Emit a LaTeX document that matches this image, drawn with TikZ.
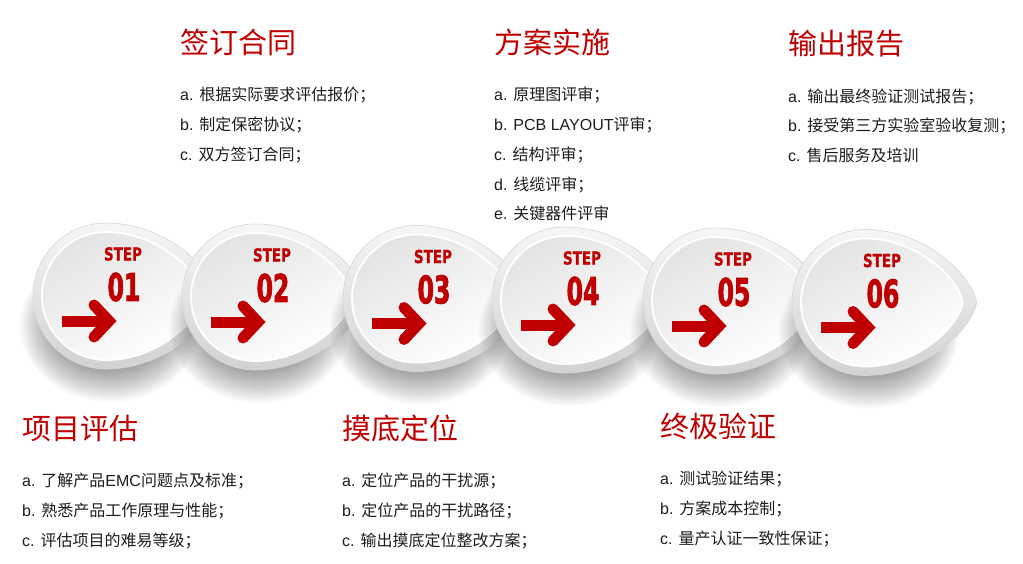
\documentclass[tikz,border=0pt]{standalone}
\usepackage{fontspec}
\usepackage{graphicx}
\setmainfont{Noto Sans CJK SC}
\newfontfamily\lat{Liberation Sans}
\newfontfamily\dvb{DejaVu Sans}[BoldFeatures={FakeBold=1.2}]
\newfontfamily\numfont{DejaVu Sans}[BoldFeatures={FakeBold=2.5}]
\definecolor{tred}{HTML}{C00000}
\definecolor{txt}{HTML}{1E1E1E}
\definecolor{rimtop}{HTML}{F6F6F6}
\definecolor{rimbot}{HTML}{D2D2D2}
\definecolor{rimline}{HTML}{D6D6D6}
\definecolor{facetop}{HTML}{E4E4E4}
\newcommand\droppath[3]{(#1,{#2+#3}) arc[start angle=90, end angle=270, radius=#3] .. controls ({#1+0.8*#3},{#2-#3}) and ({#1+1.45*#3},{#2-0.4*#3}) .. ({#1+1.53*#3},#2) .. controls ({#1+1.45*#3},{#2+0.4*#3}) and ({#1+0.8*#3},{#2+#3}) .. cycle}
\tikzset{
  titletext/.style={anchor=base west, inner sep=0pt, font=\fontsize{29}{32}\selectfont, text=tred},
  itemtext/.style={anchor=base west, inner sep=0pt, font=\fontsize{16}{19}\selectfont, text=txt},
  steplabel/.style={inner sep=0pt, font=\dvb\bfseries\fontsize{18}{20}\selectfont, text=tred},
  numlabel/.style={inner sep=0pt, font=\numfont\bfseries\fontsize{38}{40}\selectfont, text=tred},
  arrowline/.style={draw=tred, line width=11pt},
  shadowlayer/.style={fill=black, opacity=0.024},
  outerdrop/.style={top color=rimtop, bottom color=rimbot, draw=rimline, line width=0.6pt},
  innerdrop/.style={top color=facetop, bottom color=white, shading angle=30, draw=white, line width=1.8pt}
}
\begin{document}
\begin{tikzpicture}[x=1pt,y=-1pt]
\useasboundingbox[fill=white] (0,0) rectangle (1023,563);
% bubbles
\foreach \i/\cx/\cy in {1/106/296,2/255/297,3/416/298.5,4/565/300,5/716/301,6/865/302.5}{
  \foreach \k in {0,...,15}{
    \fill[shadowlayer] (\cx+4,\cy+30) ellipse [x radius={60+2*\k}, y radius={46+2*\k}];
  }
  \shade[outerdrop] \droppath{\cx}{\cy}{73};
  \shade[innerdrop] \droppath{\cx}{\cy}{64};
  \node[steplabel] (s\i) at (\cx+17,\cy-42) {\scalebox{0.75}[1]{STEP}};
  \node[numlabel] (n\i) at (\cx+18,\cy-9) {\scalebox{0.62}[1]{0\i}};
  \draw[arrowline] (\cx-44,\cy+25) -- (\cx+1,\cy+25);
  \draw[arrowline, line cap=round, line join=miter] (\cx-12,\cy+9) -- (\cx+3,\cy+25) -- (\cx-12,\cy+41);
}
% top texts
\node[titletext] (t2) at (180,53) {签订合同};
\node[itemtext] (t2a) at (180,100) {{\lat a. }根据实际要求评估报价；};
\node[itemtext] (t2b) at (180,130) {{\lat b. }制定保密协议；};
\node[itemtext] (t2c) at (180,160) {{\lat c. }双方签订合同；};
\node[titletext] (t4) at (494,53) {方案实施};
\node[itemtext] (t4a) at (494,100) {{\lat a. }原理图评审；};
\node[itemtext] (t4b) at (494,130) {{\lat b. PCB LAYOUT}评审；};
\node[itemtext] (t4c) at (494,160) {{\lat c. }结构评审；};
\node[itemtext] (t4d) at (494,190) {{\lat d. }线缆评审；};
\node[itemtext] (t4e) at (494,219) {{\lat e. }关键器件评审};
\node[titletext] (t6) at (788,54) {输出报告};
\node[itemtext] (t6a) at (788,102) {{\lat a. }输出最终验证测试报告；};
\node[itemtext] (t6b) at (788,131) {{\lat b. }接受第三方实验室验收复测；};
\node[itemtext] (t6c) at (788,161) {{\lat c. }售后服务及培训};
% bottom texts
\node[titletext] (t1) at (22,439) {项目评估};
\node[itemtext] (t1a) at (22,486) {{\lat a. }了解产品{\lat EMC}问题点及标准；};
\node[itemtext] (t1b) at (22,516) {{\lat b. }熟悉产品工作原理与性能；};
\node[itemtext] (t1c) at (22,546) {{\lat c. }评估项目的难易等级；};
\node[titletext] (t3) at (342,439) {摸底定位};
\node[itemtext] (t3a) at (342,486) {{\lat a. }定位产品的干扰源；};
\node[itemtext] (t3b) at (342,516) {{\lat b. }定位产品的干扰路径；};
\node[itemtext] (t3c) at (342,546) {{\lat c. }输出摸底定位整改方案；};
\node[titletext] (t5) at (660,437) {终极验证};
\node[itemtext] (t5a) at (660,484) {{\lat a. }测试验证结果；};
\node[itemtext] (t5b) at (660,514) {{\lat b. }方案成本控制；};
\node[itemtext] (t5c) at (660,544) {{\lat c. }量产认证一致性保证；};
\end{tikzpicture}
\end{document}
